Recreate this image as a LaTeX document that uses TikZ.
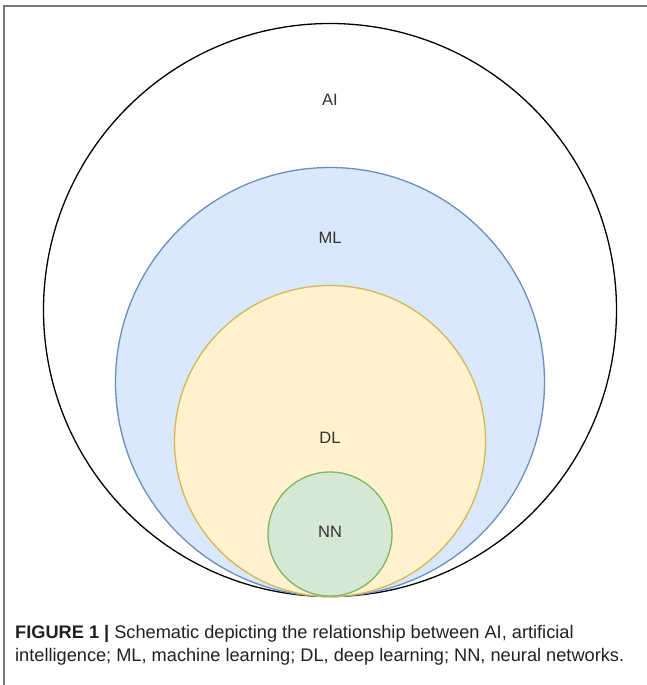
\documentclass[tikz,border=0pt]{standalone}
\usepackage{fontspec}
\setmainfont{Liberation Sans}
\definecolor{mlfill}{HTML}{DAE8FC}
\definecolor{mldraw}{HTML}{6C8EBF}
\definecolor{dlfill}{HTML}{FFF2CC}
\definecolor{dldraw}{HTML}{D6B656}
\definecolor{nnfill}{HTML}{D5E8D4}
\definecolor{nndraw}{HTML}{82B366}
\definecolor{txt}{HTML}{333333}
\definecolor{capc}{HTML}{231F20}
\definecolor{framec}{HTML}{777777}
\begin{document}
\begin{tikzpicture}[x=1pt,y=-1pt,
  ring/.style={circle, inner sep=0pt, outer sep=0pt, line width=1.3pt},
  lab/.style={font=\fontsize{16.5}{18}\selectfont, text=txt, inner sep=0pt},
  captxt/.style={font=\fontsize{18.2}{21}\selectfont, text=capc, inner sep=0pt, anchor=base west}]
\useasboundingbox (0,0) rectangle (647,685);
\coordinate (fa) at (4,685);
\coordinate (fb) at (4,6);
\coordinate (fc) at (647,6);
\draw[framec, line width=1.6pt] (fa) -- (fb) -- (fc);
\node[ring, draw=black, fill=white, minimum size=573pt] (ai) at (330,310) {};
\node[ring, draw=mldraw, fill=mlfill, minimum size=429pt] (ml) at (330,382) {};
\node[ring, draw=dldraw, fill=dlfill, minimum size=311pt] (dl) at (330,441) {};
\node[ring, draw=nndraw, fill=nnfill, minimum size=124pt] (nn) at (330,534) {};
\node[lab] (ailab) at (330,100) {AI};
\node[lab] (mllab) at (330,238) {ML};
\node[lab] (dllab) at (330,438) {DL};
\node[lab] (nnlab) at (330,532) {NN};
\node[captxt] (cap1) at (15,638) {\textbf{FIGURE 1 |} Schematic depicting the relationship between AI, artificial};
\node[captxt] (cap2) at (15,661) {intelligence; ML, machine learning; DL, deep learning; NN, neural networks.};
\end{tikzpicture}
\end{document}
